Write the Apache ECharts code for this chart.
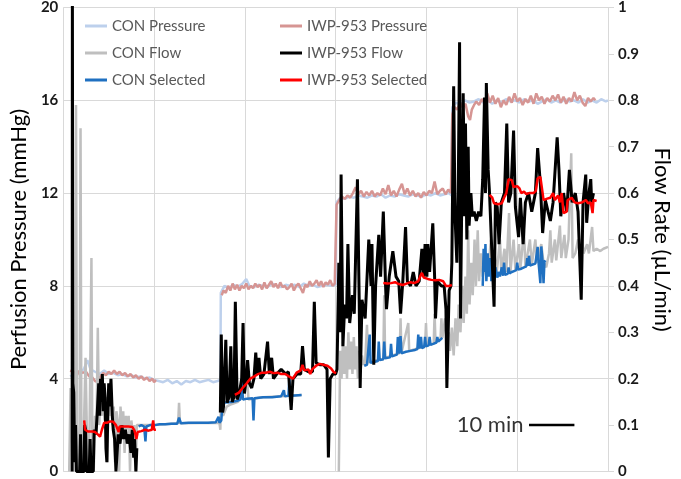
<!DOCTYPE html>
<html><head><meta charset="utf-8">
<script src="https://cdn.jsdelivr.net/npm/echarts@6/dist/echarts.min.js"></script>
<style>html,body{margin:0;padding:0;background:#fff}#c{width:681px;height:479px}</style>
</head><body><div id="c"></div>
<script>
// time in minutes; pressure in mmHg (left axis); flow in uL/min (right axis)
const G = '-';
const conPressure = [[1.5,4.1],[2.5,4.2],[3.5,4.3],[4.5,4.4],[5.3,4.8],[6,4.4],[7,4.3],[8,4.2],[9,4.35],[10,4.2],[11,4.25],[12,4.15],[13,4.2],[14,4.1],[15,4.15],[16,4.05],[17,4.1],[18,4.0],[19,4.05],[20,3.95],[21,3.9],[22,3.85],[23,3.95],[24,3.8],[25,3.9],[26,3.75],[27,3.9],[28,3.85],[29,3.95],[30,3.85],[31,3.9],[32,3.95],[33,3.85],[34,3.9],[34.6,3.95],[34.7,7.7],[35.5,8.0],[36.5,7.9],[37.5,8.05],[38.5,7.95],[39.5,8.1],[40.3,8.3],[41,8.0],[42,7.95],[43,8.05],[44,8.0],[45,7.95],[46,8.1],[47,8.0],[48,7.95],[49,8.05],[50,8.0],[51,8.05],[52,7.95],[53,8.1],[54,8.0],[55,8.05],[56,7.95],[57,8.0],[58,8.05],[59,8.0],[60.0,8.05],[60.2,11.6],[61,11.8],[62,11.75],[63,11.85],[64,11.8],[65,11.9],[66,11.85],[67,11.8],[68,11.9],[69,11.85],[70,11.95],[71,11.8],[72,11.9],[73,11.85],[74,11.95],[75,11.9],[76,11.85],[77,11.95],[78,11.9],[79,11.85],[80,11.95],[81,11.9],[82,12.0],[83,11.9],[84,11.95],[85,12.0],[85.5,11.9],[85.7,15.7],[86.5,15.9],[87.5,15.8],[88.5,16.0],[89.5,15.9],[90.5,15.95],[91.5,16.05],[92.5,15.9],[93.5,16.0],[94.5,15.85],[95.5,16.0],[96.5,15.9],[97.5,16.05],[98.5,15.95],[99.5,16.0],[100.5,15.9],[101.5,16.05],[102.5,15.95],[103.5,16.0],[104.5,15.85],[105.5,15.95],[106.5,16.05],[107.5,15.9],[108.5,16.0],[109.5,15.9],[110.5,16.05],[111.5,15.95],[112.5,16.0],[113.5,15.9],[114.5,16.05],[115.5,15.9],[116.5,16.0],[117.5,15.9],[118.5,16.05],[119.5,15.95],[120,16.0]];

const iwpPressure = [[1.5,4.35],[2.2,4.3],[3,4.15],[3.6,4.35],[4.2,4.25],[5,4.3],[5.7,4.1],[6.4,4.05],[7,3.9],[7.6,3.85],[8.2,4.1],[8.8,4.25],[9.4,4.15],[10,4.3],[10.6,4.2],[11.2,4.35],[11.8,4.2],[12.4,4.3],[13,4.15],[13.6,4.25],[14.2,4.1],[14.8,4.2],[15.4,4.05],[16,4.15],[16.6,4.0],[17.2,4.1],[17.8,3.95],[18.4,4.05],[19,3.9],[19.6,4.0],[20.0,3.85],[20.4,3.95],[27,G],
[34.9,7.6],[35.3,7.8],[35.8,7.7],[36.3,8.0],[36.8,7.8],[37.3,8.1],[37.8,7.85],[38.3,8.05],[38.8,7.8],[39.3,8.0],[39.8,7.9],[40.3,8.1],[40.8,7.85],[41.3,8.0],[41.8,7.9],[42.3,8.1],[42.8,7.95],[43.3,8.05],[43.8,7.85],[44.3,8.15],[44.8,7.9],[45.3,8.05],[45.8,8.2],[46.3,7.95],[46.8,8.1],[47.3,7.9],[47.8,8.15],[48.3,7.95],[48.8,8.0],[49.3,7.85],[49.8,7.95],[50.3,8.1],[50.8,7.8],[51.3,8.0],[51.8,8.1],[52.3,7.9],[52.8,7.7],[53.3,8.05],[53.8,7.95],[54.3,8.2],[54.8,8.0],[55.3,8.1],[55.8,8.25],[56.3,8.0],[56.8,8.2],[57.3,7.95],[57.8,8.15],[58.3,8.05],[58.8,8.25],[59.3,8.0],[59.8,8.1],[60.1,8.1],
[60.2,11.5],[60.8,11.7],[61.4,11.85],[62,11.75],[62.6,11.9],[63.2,11.8],[63.8,12.0],[64.4,12.25],[65,11.95],[65.6,12.1],[66.2,11.85],[66.8,12.05],[67.4,11.9],[68,12.1],[68.6,11.85],[69.2,12.0],[69.8,11.9],[70.4,12.2],[71,11.95],[71.6,12.35],[72.2,11.9],[72.8,12.1],[73.4,11.85],[74,12.15],[74.6,12.4],[75.2,11.95],[75.8,12.2],[76.4,11.9],[77,12.1],[77.6,11.85],[78.2,12.0],[78.8,11.8],[79.4,12.05],[80,11.9],[80.6,12.1],[81.2,12.0],[81.8,12.5],[82.4,11.95],[83,12.1],[83.6,12.2],[84.2,11.95],[84.8,12.15],[85.4,12.0],
[85.7,15.4],[86.2,15.7],[86.8,15.6],[87.4,15.9],[88.0,15.7],[88.6,15.85],[89.2,15.3],[89.6,15.15],[90.0,15.6],[90.5,15.8],[91.0,15.95],[91.6,15.8],[92.2,16.05],[92.8,15.9],[93.4,16.3],[94.0,15.9],[94.6,16.2],[95.2,15.85],[95.8,16.1],[96.4,15.7],[97.0,16.0],[97.6,15.8],[98.2,16.15],[98.8,15.9],[99.4,16.3],[100.0,15.95],[100.6,16.1],[101.2,15.8],[101.8,16.05],[102.4,15.9],[103.0,16.2],[103.6,15.85],[104.2,16.3],[104.8,16.0],[105.4,16.15],[106.0,15.85],[106.6,16.1],[107.2,15.95],[107.8,16.2],[108.4,16.0],[109.0,16.25],[109.6,15.9],[110.2,16.15],[110.8,15.85],[111.4,16.1],[112.0,15.95],[112.6,16.35],[113.2,16.0],[113.8,16.2],[114.4,15.9],[115.0,15.75],[115.6,16.1],[116.2,15.95],[116.8,16.1],[117.2,16.0]];

const conFlow = [[1.3,0.0],[1.6,0.18],[2.0,0.05],[2.4,0.1],[2.6,0.0],[2.8,0.79],[3.0,0.05],[3.3,0.0],[3.6,0.1],[3.8,0.74],[4.0,0.02],[4.3,0.0],[4.6,0.12],[4.9,0.245],[5.2,0.08],[5.5,0.0],[5.8,0.1],[6.2,0.46],[6.4,0.05],[6.7,0.0],[7.0,0.12],[7.3,0.08],[7.6,0.31],[7.9,0.1],[8.2,0.16],[8.5,0.12],[8.8,0.19],[9.1,0.11],[9.4,0.16],[9.7,0.02],[9.9,0.15],[10.2,0.12],[10.5,0.17],[10.8,0.1],[11.1,0.14],[11.4,0.02],[11.7,0.13],[12.0,0.11],[12.3,0.0],[12.6,0.14],[12.9,0.1],[13.2,0.13],[13.5,0.04],[13.8,0.12],[14.1,0.09],[14.4,0.12],[14.7,0.0],[15.0,0.11],[15.3,0.08],[15.6,0.1],[15.9,0.0],[16.2,0.1],[16.6,0.1],
[20,0.1],[25.3,0.104],[25.5,0.148],[25.7,0.104],[34.4,0.105],[34.6,0.09],[34.8,0.18],[35.2,0.12],[36,0.14],[37,0.145],[38.5,0.15],[40.5,0.2],[40.8,0.155],[44,0.16],[48,0.162],[52.5,0.165],[56,G],
[60.7,0.0],[60.8,0.0],[61.0,0.26],[61.3,0.2],[61.6,0.28],[61.9,0.21],[62.2,0.27],[62.5,0.2],[62.8,0.3],[63.1,0.22],[63.4,0.28],[63.7,0.21],[64.0,0.29],[64.3,0.22],[64.6,0.27],[64.9,0.2],[65.2,0.26],[65.5,0.22],[65.8,0.25],[66.1,0.23],[66.5,0.235],[66.9,0.316],[67.2,0.235],[68.0,0.238],[69.0,0.24],[70.5,0.242],[70.7,0.38],[70.9,0.245],[72.5,0.25],[74.1,0.255],[74.3,0.33],[74.5,0.256],[76.0,0.32],[76.2,0.26],[78.0,0.265],[79.7,0.27],[79.9,0.32],[80.1,0.272],[81.6,0.276],[81.8,0.34],[82.0,0.278],[83.1,0.285],[83.3,0.33],[83.5,0.288],
[83.7,0.3],[84.1,0.33],[84.5,0.28],[84.9,0.3],[85.2,0.26],[85.6,0.31],[86.0,0.25],[86.4,0.33],[86.8,0.27],[87.1,0.36],[87.5,0.3],[87.9,0.4],[88.2,0.32],[88.6,0.42],[88.9,0.34],[89.2,0.52],[89.5,0.36],[89.9,0.45],[90.2,0.38],[90.6,0.5],[90.9,0.4],[91.3,0.52],[91.6,0.41],[92.0,0.47],[92.4,0.42],[93,0.45],[93.6,0.43],[94.2,0.5],[94.5,0.43],[95.0,0.47],[95.5,0.43],[96.2,0.5],[96.5,0.43],[97.2,0.48],[97.6,0.43],[98.2,0.557],[98.5,0.43],[99.2,0.5],[99.6,0.435],[100.4,0.49],[100.7,0.437],[101.5,0.52],[101.8,0.44],[102.8,0.5],[103.2,0.445],[104.0,0.5],[104.4,0.45],[105.3,0.49],[105.8,0.45],[106.4,0.44],[107.0,0.47],[107.3,0.52],[107.6,0.45],[108.3,0.5],[108.6,0.455],[109.4,0.53],[109.7,0.46],[110.4,0.51],[110.7,0.46],[111.3,0.5],[111.9,0.686],[112.2,0.46],[112.8,0.47],[113.4,0.5],[113.8,0.465],[114.3,0.5],[114.6,0.47],[115.4,0.49],[115.8,0.47],[116.5,0.527],[116.8,0.475],[117.5,0.48],[118.3,0.475],[119.0,0.48],[120,0.484]];

const iwpFlow = [[1.95,0.0],[2.0,1.05],[2.1,0.19],[2.3,0.17],[2.5,0.02],[2.7,0.1],[2.9,0.0],[3.6,0.0],[3.8,0.08],[4.0,0.0],[4.6,0.0],[4.7,0.1],[4.9,0.09],[5.1,0.0],[5.7,0.0],[5.9,0.07],[6.1,0.0],[6.6,0.0],[6.8,0.09],[7.2,0.08],[7.5,0.13],[7.8,0.19],[8.0,0.12],[8.2,0.2],[8.4,0.15],[8.6,0.21],[8.8,0.13],[9.0,0.19],[9.2,0.16],[9.4,0.05],[9.6,0.02],[9.8,0.12],[10.0,0.19],[10.2,0.14],[10.5,0.2],[10.8,0.12],[11.0,0.09],[11.3,0.07],[11.6,0.0],[11.9,0.0],[12.1,0.08],[12.5,0.06],[12.9,0.1],[13.3,0.07],[13.7,0.09],[14.1,0.06],[14.5,0.08],[14.9,0.04],[15.2,0.09],[15.5,0.03],[15.7,0.07],[16.0,0.0],[16.2,0.05],[25,G],
[34.6,0.127],[34.8,0.295],[35.1,0.127],[35.3,0.14],[35.8,0.284],[36.1,0.148],[36.5,0.16],[36.9,0.27],[37.2,0.15],[37.6,0.16],[37.9,0.366],[38.3,0.155],[38.8,0.17],[39.3,0.2],[39.6,0.32],[39.9,0.168],[40.3,0.2],[40.6,0.24],[41.0,0.19],[41.5,0.18],[42.0,0.2],[42.4,0.256],[42.7,0.21],[43.1,0.245],[43.5,0.2],[44.2,0.21],[45.0,0.28],[45.4,0.21],[45.9,0.245],[46.3,0.2],[47.0,0.21],[48.0,0.22],[49.0,0.21],[49.6,0.215],[50.2,0.133],[50.6,0.2],[51.5,0.21],[52.3,0.21],[52.7,0.27],[53.1,0.22],[54.0,0.215],[54.9,0.215],[55.3,0.366],[55.7,0.234],[56.5,0.23],[57.4,0.23],[58.1,0.22],[58.4,0.03],[58.8,0.2],[59.4,0.21],[60.0,0.21],
[60.3,0.22],[60.7,0.45],[61.0,0.30],[61.2,0.64],[61.6,0.27],[62.0,0.36],[62.4,0.33],[62.7,0.49],[63.1,0.32],[63.7,0.38],[64.1,0.34],[64.8,0.63],[65.2,0.36],[65.4,0.18],[65.8,0.37],[66.5,0.33],[67.3,0.50],[67.8,0.40],[68.0,0.49],[68.4,0.23],[68.8,0.40],[69.5,0.51],[69.9,0.42],[70.5,0.56],[71.0,0.40],[71.2,0.35],[71.8,0.42],[72.6,0.475],[73.3,0.42],[73.9,0.41],[74.3,0.34],[74.8,0.41],[75.4,0.527],[75.8,0.41],[76.5,0.40],[77.1,0.43],[77.7,0.40],[78.4,0.41],[79.0,0.48],[79.4,0.42],[79.7,0.49],[80.1,0.42],[80.3,0.49],[80.7,0.43],[81.4,0.535],[81.8,0.42],[82.0,0.33],[82.4,0.41],[83.3,0.40],[83.9,0.40],[84.3,0.35],[84.5,0.18],[85.0,0.39],[85.4,0.40],
[85.6,0.45],[86.0,0.83],[86.3,0.55],[86.7,0.45],[87.0,0.6],[87.3,0.925],[87.5,0.33],[87.8,0.6],[88.1,0.815],[88.4,0.55],[88.6,0.75],[88.9,0.5],[89.2,0.7],[89.4,0.53],[89.8,0.6],[90.1,0.55],[90.5,0.56],[91.0,0.54],[91.5,0.56],[92.0,0.55],[92.4,0.63],[92.8,0.806],[93.0,0.6],[93.2,0.837],[93.6,0.65],[93.9,0.6],[94.3,0.5],[94.9,0.355],[95.2,0.58],[95.6,0.57],[96.0,0.49],[96.5,0.58],[97.2,0.6],[97.7,0.75],[98.1,0.58],[98.6,0.6],[99.2,0.735],[99.6,0.57],[100.3,0.505],[100.7,0.59],[101.3,0.49],[101.8,0.58],[102.5,0.6],[103.2,0.56],[104.0,0.6],[104.5,0.697],[105.1,0.62],[105.6,0.514],[106.2,0.585],[106.8,0.56],[107.3,0.54],[107.9,0.58],[108.8,0.72],[109.2,0.65],[109.6,0.55],[110.2,0.6],[110.9,0.56],[111.5,0.65],[112.1,0.58],[112.8,0.6],[113.4,0.56],[114.1,0.37],[114.5,0.58],[115.1,0.64],[115.3,0.536],[115.8,0.6],[116.2,0.63],[116.4,0.58],[116.8,0.6]];

const conSelected = [[16.6,0.097],[17.2,0.1],[17.8,0.097],[18.1,0.065],[18.3,0.097],[19.1,0.1],[20.2,0.1],[21.2,0.102],[22.5,0.102],[23.8,0.103],[25.1,0.103],[25.5,0.116],[25.9,0.104],[27.6,0.105],[29.7,0.105],[31.9,0.105],[33.6,0.106],[34.2,0.118],[34.4,0.105],[34.8,0.11],[35.1,0.148],[37.0,0.15],[38.2,0.152],[39.0,0.155],[39.3,0.2],[39.6,0.155],[40.5,0.157],[41.7,0.158],[41.9,0.11],[42.1,0.158],[44,0.16],[46,0.16],[48,0.162],[48.6,0.175],[48.8,0.162],[49.6,0.163],[49.8,0.2],[50.0,0.163],[51,0.164],[52.5,0.165],[60,G],
[66.3,0.228],[66.9,0.23],[67.3,0.232],[67.5,0.295],[67.7,0.234],[68.4,0.236],[69.3,0.238],[69.5,0.28],[69.7,0.24],[70.5,0.242],[70.7,0.28],[70.9,0.244],[72.0,0.246],[72.2,0.275],[72.4,0.248],[73.5,0.252],[73.7,0.29],[73.9,0.254],[74.3,0.292],[74.5,0.255],[75.5,0.258],[76.5,0.26],[77.5,0.262],[78.0,0.264],[78.2,0.295],[78.4,0.265],[78.8,0.29],[79.0,0.266],[79.5,0.268],[79.7,0.29],[79.9,0.27],[80.5,0.272],[80.7,0.29],[80.9,0.273],[81.5,0.275],[82.2,0.278],[82.4,0.29],[82.6,0.28],[83.5,0.288],[88,G],
[92.4,0.4],[92.6,0.48],[92.8,0.43],[93.0,0.49],[93.2,0.41],[93.5,0.47],[93.7,0.42],[94.1,0.46],[94.3,0.41],[94.5,0.45],[94.9,0.415],[95.2,0.44],[95.6,0.418],[96.0,0.43],[96.2,0.42],[96.6,0.44],[96.9,0.422],[97.1,0.45],[97.3,0.424],[97.9,0.426],[98.1,0.44],[98.3,0.427],[98.8,0.43],[99.3,0.432],[99.8,0.434],[100.0,0.45],[100.2,0.435],[100.9,0.437],[101.5,0.44],[102.0,0.442],[102.2,0.46],[102.4,0.443],[102.6,0.465],[102.8,0.444],[103.4,0.446],[104.0,0.448],[104.5,0.484],[104.7,0.45],[105.1,0.406],[105.3,0.485],[105.6,0.45],[105.8,0.406],[106.0,0.452],[106.2,0.455]];

const iwpSelected = [[4.6,0.11],[4.8,0.09],[5.5,0.086],[6.4,0.086],[7.0,0.085],[7.6,0.08],[8.1,0.075],[8.5,0.09],[9.0,0.105],[9.6,0.105],[10.3,0.108],[11.0,0.107],[11.6,0.1],[12.0,0.097],[12.2,0.085],[12.4,0.097],[13.4,0.097],[14.3,0.097],[15.2,0.096],[15.7,0.088],[16.1,0.07],[16.4,0.085],[17.2,0.087],[18.0,0.09],[18.8,0.088],[19.5,0.09],[19.8,0.11],[20.0,0.09],[20.4,0.09],[28,G],
[37.8,0.165],[38.7,0.17],[39.5,0.18],[40.4,0.19],[41.2,0.2],[42.1,0.205],[42.9,0.21],[43.8,0.213],[44.6,0.213],[45.5,0.215],[46.3,0.212],[47.2,0.213],[48.0,0.21],[48.9,0.21],[49.7,0.205],[50.6,0.2],[51.4,0.213],[52.3,0.218],[52.7,0.23],[53.1,0.218],[54.0,0.22],[54.4,0.21],[54.8,0.22],[55.7,0.228],[56.5,0.232],[57.3,0.23],[58.2,0.228],[59.0,0.222],[59.6,0.214],[60.1,0.212],[65,G],
[70.5,0.406],[71.4,0.405],[72.2,0.406],[73.1,0.408],[73.9,0.404],[74.8,0.402],[75.6,0.405],[76.5,0.408],[77.3,0.406],[78.2,0.41],[78.6,0.42],[79.0,0.428],[79.4,0.418],[80.3,0.415],[81.1,0.413],[82.0,0.412],[82.8,0.413],[83.7,0.41],[84.3,0.4],[84.7,0.399],[85.0,0.4],[85.6,0.402],[90,G],
[93.9,0.596],[94.5,0.59],[94.9,0.578],[95.8,0.576],[96.6,0.578],[97.1,0.59],[97.6,0.6],[98.1,0.63],[98.8,0.628],[99.2,0.613],[100.0,0.615],[100.5,0.61],[100.9,0.6],[101.5,0.603],[102.0,0.598],[102.6,0.6],[103.0,0.597],[103.6,0.6],[104.1,0.605],[104.5,0.632],[105.1,0.635],[105.6,0.6],[105.8,0.585],[106.6,0.588],[107.3,0.59],[107.9,0.6],[108.3,0.585],[109.0,0.595],[109.4,0.58],[109.8,0.6],[110.2,0.557],[110.9,0.56],[111.1,0.585],[112.0,0.59],[112.6,0.58],[113.4,0.578],[114.3,0.58],[115.1,0.585],[115.6,0.578],[116.2,0.58],[116.6,0.557],[116.8,0.585],[117.5,0.583]];

const scaleBar = [[102.6,0.1],[112.6,0.1]];
const scaleLabel = '10 min';
const namesCON = ['CON Pressure','CON Flow','CON Selected'];
const namesIWP = ['IWP-953 Pressure','IWP-953 Flow','IWP-953 Selected'];

const chart = echarts.init(document.getElementById('c'), null, {renderer:'canvas'});
const FONT = 'Lato';
function line(name, data, color, yIdx, width, z) {
  return {name, type:'line', data, yAxisIndex:yIdx, showSymbol:false, symbol:'none',
    lineStyle:{color, width}, itemStyle:{color}, connectNulls:false, z, animation:false, silent:true};
}
const legendCommon = {orient:'vertical', icon:'rect', itemWidth:22, itemHeight:3, itemGap:9,
  textStyle:{fontFamily:FONT, fontSize:15, color:'#595959', lineHeight:18}, selectedMode:false};
chart.setOption({
  animation:false,
  grid:{left:50, right:66, top:7, bottom:7, containLabel:false},
  legend:[
    Object.assign({left:80, top:12, data:namesCON}, legendCommon),
    Object.assign({left:275, top:12, data:namesIWP}, legendCommon)
  ],
  xAxis:{type:'value', min:0, max:120, interval:20,
    axisLine:{show:false}, axisTick:{show:false}, axisLabel:{show:false},
    splitLine:{show:true, lineStyle:{color:'#d9d9d9', width:1}}},
  yAxis:[
    {type:'value', min:0, max:20, interval:4, position:'left',
     name:'Perfusion Pressure (mmHg)', nameLocation:'middle', nameGap:29, nameRotate:90,
     nameTextStyle:{fontFamily:FONT, fontSize:22, color:'#000'},
     axisLine:{show:false}, axisTick:{show:false},
     axisLabel:{fontFamily:FONT, fontWeight:'bold', fontSize:15, color:'#1a1a1a', margin:5},
     splitLine:{show:true, lineStyle:{color:'#d9d9d9', width:1}}},
    {type:'value', min:0, max:1, interval:0.1, position:'right',
     name:'Flow Rate (\u00b5L/min)', nameLocation:'middle', nameGap:43, nameRotate:-90,
     nameTextStyle:{fontFamily:FONT, fontSize:22, color:'#000'},
     axisLine:{show:true, lineStyle:{color:'#d9d9d9', width:1}},
     axisTick:{show:true, length:6, lineStyle:{color:'#d9d9d9'}},
     axisLabel:{fontFamily:FONT, fontWeight:'bold', fontSize:15, color:'#1a1a1a', margin:10,
       formatter:v => Math.abs(v) < 1e-9 ? '0' : (Math.abs(v-1) < 1e-9 ? '1' : v.toFixed(1))},
     splitLine:{show:false}}
  ],
  series:[
    line('CON Pressure', conPressure, '#bdd0ec', 0, 2.5, 1),
    line('IWP-953 Pressure', iwpPressure, '#d69593', 0, 2.5, 2),
    line('CON Flow', conFlow, '#bfbfbf', 1, 2.5, 3),
    line('CON Selected', conSelected, '#1f70c1', 1, 2.5, 4),
    line('IWP-953 Flow', iwpFlow, '#000000', 1, 3, 5),
    line('IWP-953 Selected', iwpSelected, '#ff0000', 1, 2.5, 6),
    {name:'scale', type:'line', yAxisIndex:1, showSymbol:false, symbol:'none', z:7, silent:true,
     lineStyle:{color:'#000', width:2.5}, data:scaleBar},
    {name:'scaleText', type:'scatter', yAxisIndex:1, symbolSize:1, z:7, silent:true,
     itemStyle:{color:'rgba(0,0,0,0)'},
     label:{show:true, position:'left', distance:5, formatter:scaleLabel,
       fontFamily:FONT, fontSize:22, color:'#000'},
     data:[scaleBar[0]]}
  ]
});
</script></body></html>
